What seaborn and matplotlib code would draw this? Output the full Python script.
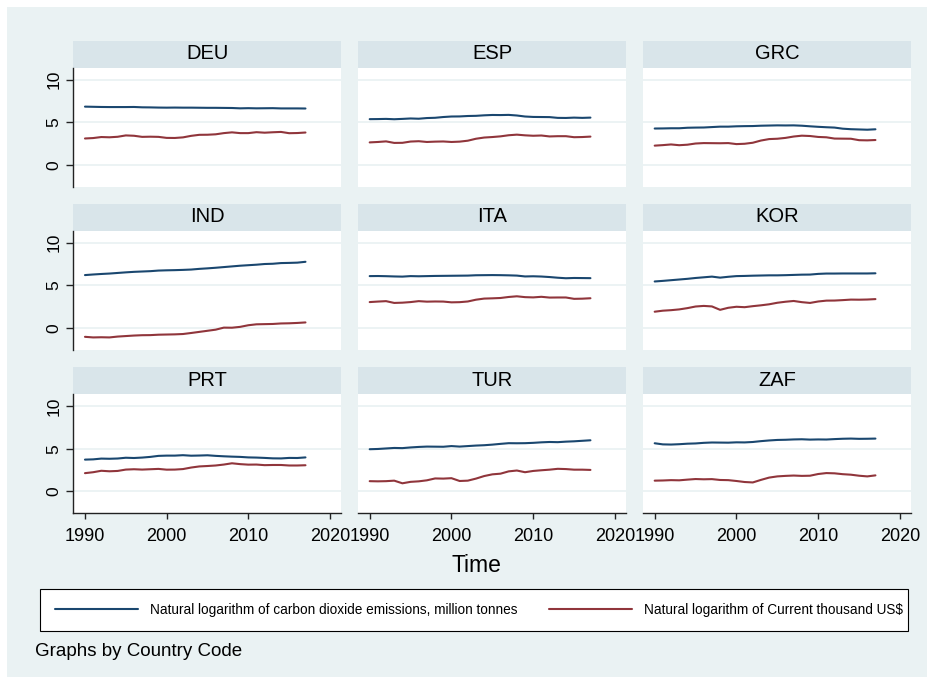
import matplotlib
matplotlib.use("Agg")
import matplotlib.pyplot as plt
from matplotlib.patches import Rectangle
from matplotlib.lines import Line2D
import pandas as pd
import seaborn as sns

# ---- data -------------------------------------------------------------
years = list(range(1990, 2018))
countries = ["DEU", "ESP", "GRC", "IND", "ITA", "KOR", "PRT", "TUR", "ZAF"]

co2_label = "Natural logarithm of carbon dioxide emissions, million tonnes"
gdp_label = "Natural logarithm of Current thousand US$"

deu_co2 = [6.84, 6.82, 6.80, 6.79, 6.79, 6.79, 6.80, 6.76, 6.75, 6.73, 6.72, 6.73, 6.72, 6.72, 6.71, 6.70,
           6.70, 6.69, 6.68, 6.64, 6.66, 6.64, 6.65, 6.66, 6.63, 6.63, 6.63, 6.62]
deu_gdp = [3.10, 3.15, 3.27, 3.24, 3.30, 3.46, 3.42, 3.29, 3.31, 3.29, 3.17, 3.16, 3.23, 3.41, 3.53, 3.54,
           3.59, 3.73, 3.82, 3.73, 3.73, 3.84, 3.78, 3.83, 3.87, 3.72, 3.74, 3.80]

esp_co2 = [5.37, 5.38, 5.40, 5.36, 5.40, 5.45, 5.42, 5.50, 5.53, 5.62, 5.68, 5.69, 5.74, 5.76, 5.82, 5.86,
           5.85, 5.87, 5.80, 5.68, 5.63, 5.62, 5.61, 5.52, 5.51, 5.55, 5.52, 5.55]
esp_gdp = [2.64, 2.69, 2.76, 2.58, 2.59, 2.74, 2.78, 2.69, 2.73, 2.75, 2.69, 2.73, 2.84, 3.07, 3.21, 3.27,
           3.35, 3.48, 3.55, 3.47, 3.42, 3.45, 3.34, 3.37, 3.37, 3.25, 3.27, 3.32]

grc_co2 = [4.27, 4.28, 4.30, 4.30, 4.36, 4.38, 4.39, 4.44, 4.49, 4.49, 4.53, 4.55, 4.56, 4.60, 4.62, 4.64,
           4.63, 4.64, 4.60, 4.53, 4.47, 4.42, 4.38, 4.25, 4.19, 4.16, 4.13, 4.18]
grc_gdp = [2.26, 2.32, 2.40, 2.31, 2.37, 2.51, 2.56, 2.55, 2.54, 2.56, 2.44, 2.48, 2.60, 2.86, 3.03, 3.07,
           3.17, 3.33, 3.43, 3.39, 3.28, 3.24, 3.09, 3.08, 3.07, 2.90, 2.88, 2.92]

ind_co2 = [6.20, 6.27, 6.33, 6.38, 6.45, 6.52, 6.58, 6.62, 6.66, 6.73, 6.76, 6.78, 6.81, 6.85, 6.93, 6.99,
           7.06, 7.14, 7.22, 7.30, 7.36, 7.42, 7.50, 7.53, 7.61, 7.63, 7.66, 7.76]
ind_gdp = [-1.05, -1.12, -1.10, -1.12, -1.02, -0.96, -0.90, -0.86, -0.85, -0.80, -0.78, -0.76, -0.72,
           -0.60, -0.47, -0.34, -0.21, 0.03, 0.02, 0.12, 0.31, 0.42, 0.44, 0.46, 0.52, 0.54, 0.58, 0.64]

ita_co2 = [6.08, 6.09, 6.07, 6.04, 6.02, 6.08, 6.06, 6.08, 6.10, 6.11, 6.12, 6.13, 6.14, 6.18, 6.19, 6.20,
           6.19, 6.17, 6.14, 6.04, 6.06, 6.03, 5.97, 5.89, 5.83, 5.86, 5.85, 5.84]
ita_gdp = [3.03, 3.09, 3.14, 2.93, 2.96, 3.03, 3.14, 3.08, 3.10, 3.09, 3.00, 3.02, 3.10, 3.31, 3.44, 3.47,
           3.51, 3.63, 3.71, 3.61, 3.58, 3.65, 3.56, 3.57, 3.57, 3.41, 3.43, 3.48]

kor_co2 = [5.45, 5.52, 5.60, 5.68, 5.76, 5.86, 5.94, 6.02, 5.90, 6.00, 6.08, 6.10, 6.13, 6.15, 6.17, 6.17,
           6.19, 6.22, 6.25, 6.26, 6.34, 6.38, 6.38, 6.39, 6.39, 6.39, 6.39, 6.41]
kor_gdp = [1.90, 2.02, 2.08, 2.17, 2.32, 2.51, 2.58, 2.52, 2.12, 2.36, 2.48, 2.43, 2.55, 2.65, 2.77, 2.95,
           3.07, 3.16, 3.02, 2.93, 3.10, 3.20, 3.21, 3.26, 3.32, 3.31, 3.33, 3.38]

prt_co2 = [3.73, 3.76, 3.85, 3.83, 3.86, 3.95, 3.92, 3.97, 4.05, 4.17, 4.20, 4.20, 4.25, 4.19, 4.21, 4.24,
           4.17, 4.12, 4.08, 4.05, 3.99, 3.97, 3.93, 3.88, 3.87, 3.93, 3.92, 3.99]
prt_gdp = [2.14, 2.25, 2.42, 2.36, 2.40, 2.56, 2.60, 2.56, 2.60, 2.64, 2.55, 2.56, 2.62, 2.80, 2.93, 2.98,
           3.04, 3.15, 3.30, 3.20, 3.14, 3.15, 3.08, 3.10, 3.10, 3.04, 3.04, 3.07]

tur_co2 = [4.95, 4.98, 5.04, 5.10, 5.08, 5.16, 5.22, 5.26, 5.25, 5.24, 5.32, 5.26, 5.32, 5.38, 5.42, 5.49,
           5.58, 5.66, 5.65, 5.66, 5.70, 5.76, 5.80, 5.78, 5.84, 5.88, 5.94, 6.00]
tur_gdp = [1.20, 1.18, 1.20, 1.26, 0.95, 1.12, 1.18, 1.30, 1.52, 1.50, 1.55, 1.22, 1.26, 1.50, 1.80, 2.00,
           2.08, 2.35, 2.45, 2.25, 2.40, 2.48, 2.55, 2.65, 2.62, 2.55, 2.55, 2.52]

zaf_co2 = [5.65, 5.52, 5.50, 5.54, 5.60, 5.63, 5.70, 5.74, 5.73, 5.72, 5.76, 5.75, 5.80, 5.90, 5.98, 6.04,
           6.06, 6.10, 6.12, 6.08, 6.10, 6.09, 6.14, 6.18, 6.20, 6.17, 6.18, 6.20]
zaf_gdp = [1.26, 1.28, 1.32, 1.30, 1.38, 1.45, 1.42, 1.44, 1.34, 1.32, 1.22, 1.10, 1.05, 1.35, 1.62, 1.76,
           1.82, 1.86, 1.82, 1.84, 2.04, 2.15, 2.12, 2.02, 1.96, 1.84, 1.76, 1.88]

co2 = dict(zip(countries, [deu_co2, esp_co2, grc_co2, ind_co2, ita_co2, kor_co2, prt_co2, tur_co2, zaf_co2]))
gdp = dict(zip(countries, [deu_gdp, esp_gdp, grc_gdp, ind_gdp, ita_gdp, kor_gdp, prt_gdp, tur_gdp, zaf_gdp]))

records = []
for c in countries:
    for yr, v in zip(years, co2[c]):
        records.append((c, yr, co2_label, v))
    for yr, v in zip(years, gdp[c]):
        records.append((c, yr, gdp_label, v))
df = pd.DataFrame(records, columns=["country", "year", "series", "value"])

# ---- style ------------------------------------------------------------
sns.set_theme(style="white")
plt.rcParams["font.family"] = ["Liberation Sans", "DejaVu Sans"]

BG = "#EAF2F3"
STRIP = "#D9E5EA"
palette = {co2_label: "#1A476F", gdp_label: "#90353B"}

W, H = 934, 684
fig = plt.figure(figsize=(W / 100, H / 100), dpi=100)
fig.patch.set_facecolor("white")
fig.patches.append(Rectangle((7 / W, 7 / H), 920 / W, 670 / H, transform=fig.transFigure,
                             facecolor=BG, edgecolor="none", zorder=-10))


def rect(x0, y0, x1, y1):
    """Pixel box (top-left origin) -> figure fraction [l, b, w, h]."""
    return [x0 / W, 1 - y1 / H, (x1 - x0) / W, (y1 - y0) / H]


col_x = [(73.3, 341.0), (358.0, 626.0), (643.0, 911.0)]
strip_top = [41.0, 204.0, 367.5]
strip_h = 26.8
plot_h = 118.8

for i, c in enumerate(countries):
    r, k = divmod(i, 3)
    x0, x1 = col_x[k]
    st = strip_top[r]

    sax = fig.add_axes(rect(x0, st, x1, st + strip_h))
    sax.set_facecolor(STRIP)
    sax.set_xticks([])
    sax.set_yticks([])
    for s in sax.spines.values():
        s.set_visible(False)
    sax.text(0.5, 0.52, c, ha="center", va="center", fontsize=14.5, color="black",
             transform=sax.transAxes)

    ax = fig.add_axes(rect(x0, st + strip_h, x1, st + strip_h + plot_h))
    ax.set_facecolor("white")
    sub = df[df["country"] == c]
    sns.lineplot(data=sub, x="year", y="value", hue="series", palette=palette,
                 hue_order=[co2_label, gdp_label], estimator=None, linewidth=1.5,
                 legend=False, ax=ax)
    ax.set_xlim(1988.57, 2021.35)
    ax.set_ylim(-2.55, 11.4)
    ax.set_yticks([0, 5, 10])
    ax.set_xticks([1990, 2000, 2010, 2020])
    ax.grid(axis="y", color=BG, linewidth=1.3)
    ax.grid(axis="x", visible=False)
    ax.set_axisbelow(True)
    ax.set_xlabel("")
    ax.set_ylabel("")
    for s in ax.spines.values():
        s.set_visible(False)

    if k == 0:
        ax.spines["left"].set_visible(True)
        ax.spines["left"].set_color("#222222")
        ax.spines["left"].set_linewidth(1.0)
        ax.tick_params(axis="y", left=True, length=4.7, width=1.0, color="#222222",
                       labelsize=12.5, labelrotation=90, pad=4, labelcolor="black")
        for lab in ax.get_yticklabels():
            lab.set_va("center")
    else:
        ax.tick_params(axis="y", left=False, labelleft=False)

    if r == 2:
        ax.spines["bottom"].set_visible(True)
        ax.spines["bottom"].set_color("#222222")
        ax.spines["bottom"].set_linewidth(1.0)
        ax.tick_params(axis="x", bottom=True, length=4.5, width=1.0, color="#222222",
                       labelsize=13, pad=6, labelcolor="black")
    else:
        ax.tick_params(axis="x", bottom=False, labelbottom=False)

fig.text(476 / W, 1 - 565 / H, "Time", ha="center", va="center", fontsize=16.5, color="black")

# legend box
fig.patches.append(Rectangle((40 / W, 1 - 631 / H), 868 / W, 42 / H, transform=fig.transFigure,
                             facecolor="white", edgecolor="black", linewidth=0.8, zorder=1))
handles = [Line2D([], [], color=palette[co2_label], lw=1.5),
           Line2D([], [], color=palette[gdp_label], lw=1.5)]
fig.legend(handles, [co2_label, gdp_label], loc="center", bbox_to_anchor=(479 / W, 1 - 610 / H),
           ncol=2, frameon=False, fontsize=9.8, handlelength=6.1, handletextpad=0.88,
           columnspacing=2.35, labelcolor="black")

fig.text(35 / W, 1 - 651 / H, "Graphs by Country Code", ha="left", va="center", fontsize=13.5,
         color="black")

fig.savefig("out.png", dpi=100, facecolor="white")
